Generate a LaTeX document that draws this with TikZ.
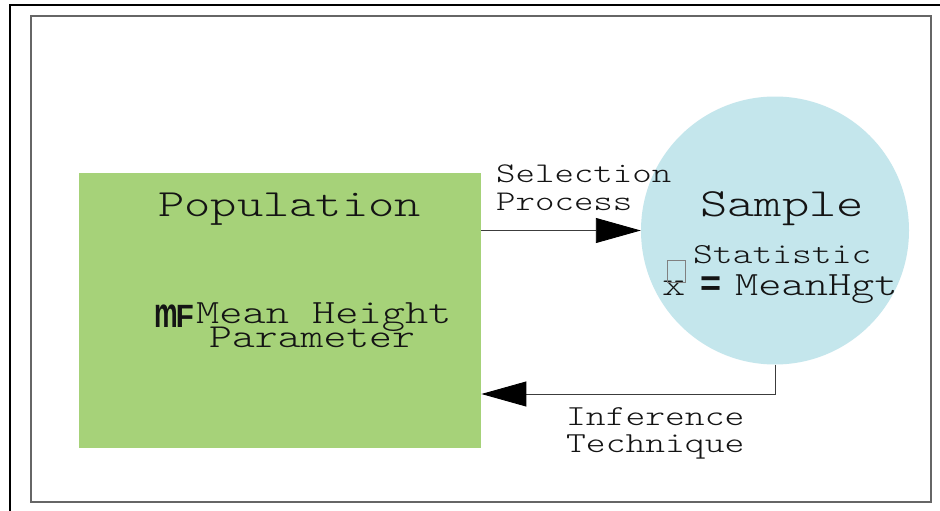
\documentclass[tikz,border=0pt]{standalone}
\usepackage{fontspec}
\usepackage{graphicx}
\usetikzlibrary{arrows.meta}
\newfontfamily\mono[FakeStretch=1.3]{lmmonolt10-regular.otf}
\newfontfamily\sansb{Liberation Sans}
\definecolor{popgreen}{RGB}{166,210,121}
\definecolor{sampblue}{RGB}{196,230,236}
\definecolor{linegray}{RGB}{60,60,60}
\definecolor{txt}{RGB}{20,20,20}
\tikzset{
  txtnode/.style={inner sep=0pt, text=txt, anchor=base west, font=\mono},
  arr/.style={draw=linegray, line width=0.9pt, -{Triangle[length=45pt,width=25pt,color=black]}},
}
\begin{document}
\begin{tikzpicture}[x=1pt,y=-1pt]
\useasboundingbox (0,0) rectangle (940,511);
\fill[white] (0,0) rectangle (940,511);
% frames
\draw[black, line width=2pt] (10,511) -- (10,5) -- (940,5);
\draw[gray!80!black, line width=1.3pt] (31,16) rectangle (931,502);
% shapes
\node[fill=popgreen, minimum width=402pt, minimum height=275pt, inner sep=0pt, anchor=north west] (pop) at (79,173) {};
\node[fill=sampblue, circle, minimum size=268pt, inner sep=0pt] (samp) at (775,230.5) {};
% texts
\node[txtnode, font=\mono\fontsize{38.5}{38.5}\selectfont] (poplab) at (158,216) {Population};
\node[txtnode, font=\mono\fontsize{40}{40}\selectfont] (samplab) at (700,216) {Sample};
\node[txtnode, font=\sansb\bfseries\fontsize{28}{28}\selectfont] (mu) at (154,327) {\scalebox{0.95}[1.5]{m}\kern-2pt\scalebox{1.05}[1.15]{F}};
\node[txtnode, font=\mono\fontsize{34}{34}\selectfont] (mh) at (196,323) {Mean Height};
\node[txtnode, font=\mono\fontsize{33.5}{33.5}\selectfont] (par) at (209,347) {Parameter};
\node[txtnode, font=\mono\fontsize{29}{29}\selectfont] (stat) at (693,263) {Statistic};
\node[txtnode, font=\mono\fontsize{34}{34}\selectfont] (xbar) at (662,295) {x};
\draw[gray, line width=0.8pt] (667,260) rectangle (685,282);
\node[txtnode, font=\sansb\bfseries\fontsize{36}{36}\selectfont] (eq) at (700,295) {=};
\node[txtnode, font=\mono\fontsize{34}{34}\selectfont] (mhgt) at (735,295) {MeanHgt};
\node[txtnode, font=\mono\fontsize{28.5}{28.5}\selectfont] (sel) at (496,182) {Selection};
\node[txtnode, font=\mono\fontsize{28.5}{28.5}\selectfont] (proc) at (496,210) {Process};
\node[txtnode, font=\mono\fontsize{29}{29}\selectfont] (inf) at (566,425) {Inference};
\node[txtnode, font=\mono\fontsize{29}{29}\selectfont] (tech) at (566,452) {Technique};
% connectors
\coordinate (bend) at (776,394);
\draw[arr] (pop.east |- samp.west) -- (samp.west);
\draw[arr] (samp.south) |- (pop.east |- bend);
\end{tikzpicture}
\end{document}
